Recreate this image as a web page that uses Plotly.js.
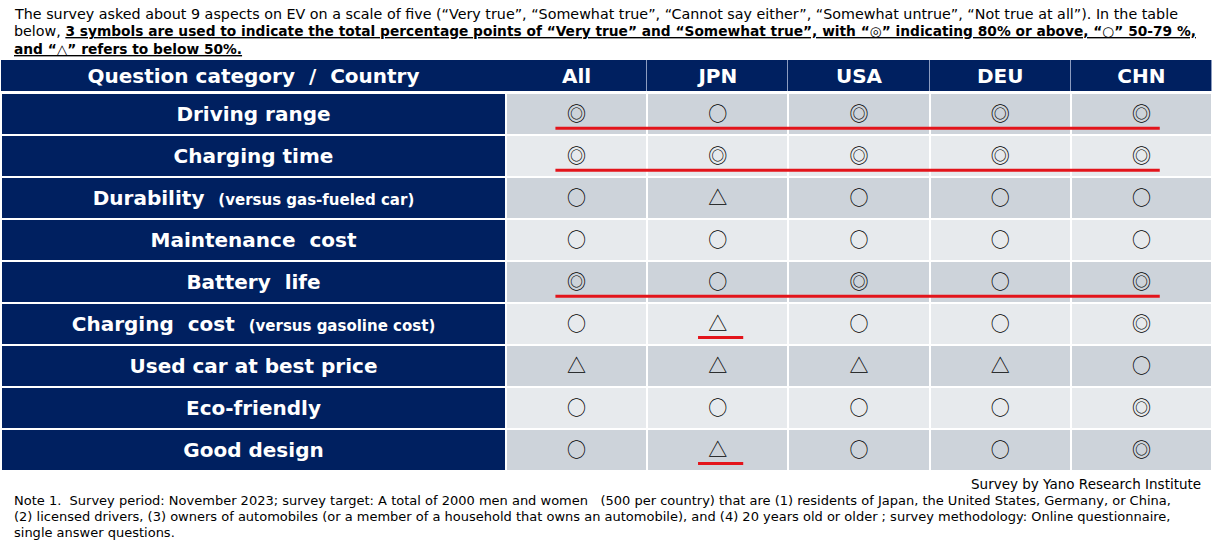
<!DOCTYPE html>
<html><head><meta charset="utf-8">
<script src="https://cdn.plot.ly/plotly-3.0.1.min.js"></script>
<style>html,body{margin:0;padding:0;background:#fff;}</style>
</head><body><div id="chart" style="width:1214px;height:549px;"></div>
<script>
// ---------- data ----------
const categories = ["Driving range","Charging time","Durability","Maintenance  cost","Battery  life","Charging  cost","Used car at best price","Eco-friendly","Good design"];
const categoryNotes = ["","","(versus gas-fueled car)","","","(versus gasoline cost)","","",""];
const countries = ["All","JPN","USA","DEU","CHN"];
const headerLabel = "Question category  /  Country";
const ratingAll = ["◎","◎","○","○","◎","○","△","○","○"];
const ratingJPN = ["○","◎","△","○","○","△","△","○","△"];
const ratingUSA = ["◎","◎","○","○","◎","○","△","○","○"];
const ratingDEU = ["◎","◎","○","○","○","○","△","○","○"];
const ratingCHN = ["◎","◎","○","○","◎","◎","○","◎","◎"];
const underlineFullRows = [0,1,4];   // rows underlined across all countries
const underlineJpnRows = [5,8];      // rows underlined under JPN only
const introLines = [
  "The survey asked about 9 aspects on EV on a scale of five (“Very true”, “Somewhat true”, “Cannot say either”, “Somewhat untrue”, “Not true at all”). In the table",
  "below, <b><u><span style=\"font-size:13.75px\">3 symbols are used to indicate the total percentage points of “Very true” and “Somewhat true”, with “◎” indicating 80% or above, “○” 50-79 %,</span></u></b>",
  "<b><u><span style=\"font-size:13.75px\">and “△” refers to below 50%.</span></u></b>"
];
const sourceText = "Survey by Yano Research Institute";
const noteLines = [
  "Note 1.  Survey period: November 2023; survey target: A total of 2000 men and women   (500 per country) that are (1) residents of Japan, the United States, Germany, or China,",
  "(2) licensed drivers, (3) owners of automobiles (or a member of a household that owns an automobile), and (4) 20 years old or older ; survey methodology: Online questionnaire,",
  "single answer questions."
];

// ---------- build ----------
const W = 1214, H = 549;
const nbsp = s => s.replace(/  /g, "\u00A0 ");
const ratings = [ratingAll, ratingJPN, ratingUSA, ratingDEU, ratingCHN];
const NAVY = "#002060";
const rowIdx = categories.map((_, i) => i);
const colIdx = countries.map((_, j) => j);
const BODY_TXT_SHIFT = 0.05;   // small downward nudge for vertical centring of text
const HEAD_TXT_SHIFT = -0.065;

const traces = [];
// body cells
traces.push({type:"heatmap", xaxis:"x2", yaxis:"y", x:colIdx, y:rowIdx,
  z: rowIdx.map(i => colIdx.map(() => i % 2)), zmin:0, zmax:1,
  colorscale:[[0,"#CDD3DA"],[1,"#E7EAED"]], showscale:false, xgap:2, ygap:2, hoverinfo:"skip"});
// label column cells
traces.push({type:"heatmap", xaxis:"x", yaxis:"y", x:[0], y:rowIdx,
  z: rowIdx.map(() => [0]), zmin:0, zmax:1,
  colorscale:[[0,NAVY],[1,NAVY]], showscale:false, xgap:2, ygap:2, hoverinfo:"skip"});
// header cells
traces.push({type:"heatmap", xaxis:"x2", yaxis:"y2", x:colIdx, y:[0],
  z: [colIdx.map(() => 0)], zmin:0, zmax:1,
  colorscale:[[0,NAVY],[1,NAVY]], showscale:false, xgap:1, hoverinfo:"skip"});
traces.push({type:"heatmap", xaxis:"x", yaxis:"y2", x:[0], y:[0],
  z: [[0]], zmin:0, zmax:1,
  colorscale:[[0,NAVY],[1,NAVY]], showscale:false, hoverinfo:"skip"});

// header text
traces.push({type:"scatter", mode:"text", xaxis:"x2", yaxis:"y2", x:colIdx, y:colIdx.map(()=>HEAD_TXT_SHIFT),
  text:countries, textposition:"middle center", hoverinfo:"skip",
  textfont:{family:"DejaVu Sans", size:20, color:"#ffffff", weight:"bold"}});
traces.push({type:"scatter", mode:"text", xaxis:"x", yaxis:"y2", x:[0], y:[HEAD_TXT_SHIFT],
  text:[nbsp(headerLabel)], textposition:"middle center", hoverinfo:"skip",
  textfont:{family:"DejaVu Sans", size:20, color:"#ffffff", weight:"bold"}});

// category labels
traces.push({type:"scatter", mode:"text", xaxis:"x", yaxis:"y", x:rowIdx.map(()=>0), y:rowIdx.map(i=>i+BODY_TXT_SHIFT),
  text: categories.map((c,i) => nbsp(c) + (categoryNotes[i] ? "\u00A0 <span style=\"font-size:15px\">" + categoryNotes[i] + "</span>" : "")),
  textposition:"middle center", hoverinfo:"skip",
  textfont:{family:"DejaVu Sans", size:20, color:"#ffffff", weight:"bold"}});

// symbols
const sx = [], sy = [], st = [];
colIdx.forEach(j => rowIdx.forEach(i => { sx.push(j); sy.push(i + BODY_TXT_SHIFT); st.push(ratings[j][i]); }));
traces.push({type:"scatter", mode:"text", xaxis:"x2", yaxis:"y", x:sx, y:sy, text:st,
  textposition:"middle center", hoverinfo:"skip",
  textfont:{family:"Noto Sans CJK JP", size:19, color:"#000000"}});

// red underlines
const RED = "#E3141B";
underlineFullRows.forEach(r => traces.push({type:"scatter", mode:"lines", xaxis:"x2", yaxis:"y",
  x:[-0.15, 4.13], y:[r+0.34, r+0.34], line:{color:RED, width:3}, hoverinfo:"skip"}));
underlineJpnRows.forEach(r => traces.push({type:"scatter", mode:"lines", xaxis:"x2", yaxis:"y",
  x:[0.86, 1.18], y:[r+0.32, r+0.32], line:{color:RED, width:3}, hoverinfo:"skip"}));

const hidden = {showgrid:false, zeroline:false, showticklabels:false, showline:false, ticks:"", fixedrange:true};
const textAnn = (text, xpx, ypx, size, xanchor) => ({xref:"paper", yref:"paper", x:xpx/W, y:(H-ypx)/H,
  xanchor:xanchor, yanchor:"middle", align:"left", showarrow:false, text:text,
  font:{family:"DejaVu Sans", size:size, color:"#000000"}});
const introY = [14, 31.5, 49], noteY = [500, 516, 532];
const layout = {
  width:W, height:H, margin:{l:0,r:0,t:0,b:0},
  paper_bgcolor:"#ffffff", plot_bgcolor:"rgba(0,0,0,0)", showlegend:false,
  xaxis: Object.assign({domain:[1/W, 506/W], range:[-0.5,0.5], anchor:"y"}, hidden),
  xaxis2: Object.assign({domain:[506/W, 1212/W], range:[-0.5,4.5], anchor:"y"}, hidden),
  yaxis: Object.assign({domain:[(H-471)/H, (H-93)/H], range:[8.5,-0.5], anchor:"x"}, hidden),
  yaxis2: Object.assign({domain:[(H-91)/H, (H-60)/H], range:[-0.5,0.5], anchor:"x"}, hidden),
  shapes:[{type:"rect", xref:"paper", yref:"paper", x0:1/W, x1:1212/W, y0:(H-91)/H, y1:(H-60)/H,
    fillcolor:"#8C9CC0", line:{width:0}, layer:"below"}],
  annotations: [
    ...introLines.map((t,k) => textAnn(t, 12, introY[k], 14.3, "left")),
    textAnn(sourceText, 1203, 484, 13.5, "right"),
    ...noteLines.map((t,k) => textAnn(nbsp(t), 12, noteY[k], 13, "left"))
  ]
};
Plotly.newPlot("chart", traces, layout, {staticPlot:true, displayModeBar:false});
</script></body></html>
